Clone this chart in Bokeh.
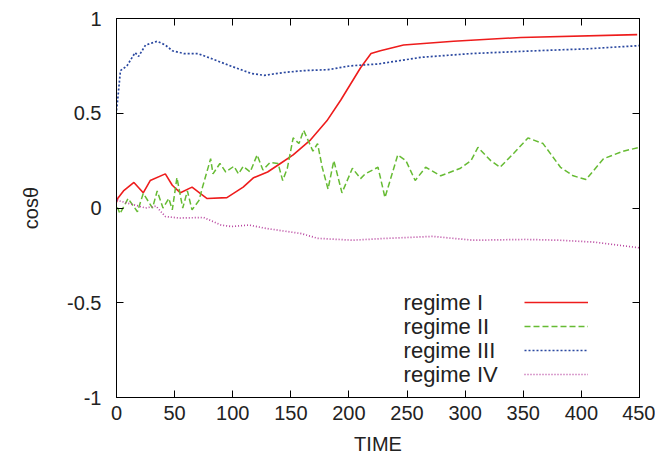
from bokeh.plotting import figure
from bokeh.models import Range1d, LinearAxis, Legend, LegendItem, Label, FixedTicker
from bokeh.embed import file_html
from bokeh.resources import INLINE

# ---- data ----
time_I = [0, 1, 6, 15, 23, 29, 42, 48, 55, 65, 72, 78, 95, 109, 118, 130, 141, 152, 167, 181, 193, 210, 219, 227, 247, 290, 348, 448]
cos_I = [0.03, 0.05, 0.09, 0.135, 0.08, 0.145, 0.18, 0.12, 0.08, 0.11, 0.077, 0.05, 0.055, 0.11, 0.16, 0.19, 0.235, 0.28, 0.36, 0.46, 0.57, 0.74, 0.815, 0.83, 0.86, 0.88, 0.90, 0.915]

time_II = [0, 1, 3, 10, 18, 23, 31, 35, 40, 45, 48, 52, 57, 61, 65, 71, 74, 81, 83, 89,
           94, 101, 105, 109, 115, 121, 126, 132, 139, 143, 147, 152, 157, 161, 165, 169, 173, 177, 182, 187,
           194, 203, 210, 214, 225, 231, 242, 249, 257, 266, 279, 296, 305, 311, 322, 330, 342, 354, 367, 382,
           393, 404, 419, 436, 450]
cos_II = [0.0, 0.0, -0.03, 0.05, -0.02, 0.077, 0.0, 0.09, 0.0, 0.05, -0.01, 0.16, 0.0, 0.09, -0.01, 0.04, 0.11, 0.26, 0.18, 0.235,
          0.19, 0.22, 0.18, 0.22, 0.19, 0.28, 0.20, 0.24, 0.235, 0.145, 0.21, 0.37, 0.34, 0.41, 0.355, 0.30, 0.34, 0.215, 0.10, 0.25,
          0.08, 0.21, 0.155, 0.18, 0.215, 0.055, 0.28, 0.25, 0.145, 0.215, 0.17, 0.21, 0.25, 0.32, 0.25, 0.215, 0.29, 0.37, 0.34, 0.215,
          0.17, 0.15, 0.26, 0.30, 0.32]

time_III = [0, 1, 3.4, 9, 16, 19, 25, 35, 42, 48, 58, 70, 81, 98, 116, 127, 144, 161, 182, 201, 225, 262, 305, 362, 405, 450]
cos_III = [0.515, 0.57, 0.725, 0.75, 0.82, 0.80, 0.86, 0.88, 0.86, 0.83, 0.815, 0.815, 0.79, 0.75, 0.71, 0.70, 0.715, 0.725, 0.73, 0.75, 0.76, 0.795, 0.815, 0.83, 0.84, 0.857]

time_IV = [0, 1, 13, 25, 34, 42, 54, 75, 90, 99, 114, 129, 159, 173, 203, 233, 272, 307, 352, 381, 411, 450]
cos_IV = [0.06, 0.04, 0.02, 0.0, 0.01, -0.045, -0.053, -0.05, -0.09, -0.098, -0.09, -0.108, -0.135, -0.16, -0.17, -0.16, -0.15, -0.17, -0.166, -0.17, -0.18, -0.21]

series_names = ["regime I", "regime II", "regime III", "regime IV"]

x_ticks = [0, 50, 100, 150, 200, 250, 300, 350, 400, 450]
y_ticks = [-1, -0.5, 0, 0.5, 1]
y_tick_labels = ["-1", "-0.5", "0", "0.5", "1"]

# ---- styles ----
FONT = "Liberation Sans"
FS = "20px"
colors = ["#ee1c1c", "#66bb33", "#2a48a0", "#b8449f"]
dashes = ["solid", "6 3", "2 2", "1 2"]
widths = [1.6, 1.5, 1.7, 1.7]

p = figure(width=655, height=464, output_backend="svg", toolbar_location=None,
           x_range=Range1d(0, 450), y_range=Range1d(-1, 1),
           min_border_left=116, min_border_right=16, min_border_top=18, min_border_bottom=67)
p.background_fill_color = "white"
p.border_fill_color = "white"
p.outline_line_color = "black"
p.outline_line_width = 1
p.grid.visible = False

data = [(time_I, cos_I), (time_II, cos_II), (time_III, cos_III), (time_IV, cos_IV)]
renderers = []
for (t, c), col, d, w in zip(data, colors, dashes, widths):
    r = p.line(t, c, line_color=col, line_dash=d, line_width=w)
    renderers.append(r)

def style_axis(ax):
    ax.major_tick_in = 7
    ax.major_tick_out = 0
    ax.minor_tick_line_color = None
    ax.axis_line_color = "black"
    ax.major_tick_line_color = "black"
    ax.major_label_text_font = FONT
    ax.major_label_text_font_size = FS
    ax.major_label_text_color = "#222222"
    ax.axis_label_text_font = FONT
    ax.axis_label_text_font_size = FS
    ax.axis_label_text_font_style = "normal"
    ax.axis_label_text_color = "#222222"

xa = p.xaxis[0]
xa.ticker = FixedTicker(ticks=x_ticks)
xa.axis_label = "TIME"
xa.major_label_standoff = 8
xa.axis_label_standoff = 10
style_axis(xa)

ya = p.yaxis[0]
ya.ticker = FixedTicker(ticks=y_ticks)
ya.major_label_overrides = {v: s for v, s in zip(y_ticks, y_tick_labels)}
ya.axis_label = "cosθ"
ya.major_label_standoff = 15
ya.axis_label_standoff = 22
style_axis(ya)

top = LinearAxis(ticker=FixedTicker(ticks=x_ticks),
                 major_label_overrides={v: "" for v in x_ticks})
style_axis(top)
top.major_label_standoff = 0
p.add_layout(top, "above")
right = LinearAxis(ticker=FixedTicker(ticks=y_ticks),
                   major_label_overrides={v: "" for v in y_ticks})
style_axis(right)
right.major_label_standoff = 0
p.add_layout(right, "right")

# legend: line samples via Legend, names as text on the left (gnuplot style)
legend = Legend(items=[LegendItem(label=" ", renderers=[r]) for r in renderers],
                location=(408, 13), orientation="vertical",
                glyph_width=64, glyph_height=20, label_height=20, label_width=1,
                spacing=4, padding=0, margin=0,
                border_line_color=None, background_fill_alpha=0,
                label_text_font_size="8px")
p.add_layout(legend)

legend_y = [-0.499, -0.625, -0.752, -0.879]
for name, ly in zip(series_names, legend_y):
    p.add_layout(Label(x=247, y=ly, text=name, text_font=FONT, text_font_size="22px",
                       text_baseline="middle", text_align="left", text_color="#222222"))

open("out.html", "w").write(file_html(p, INLINE))
